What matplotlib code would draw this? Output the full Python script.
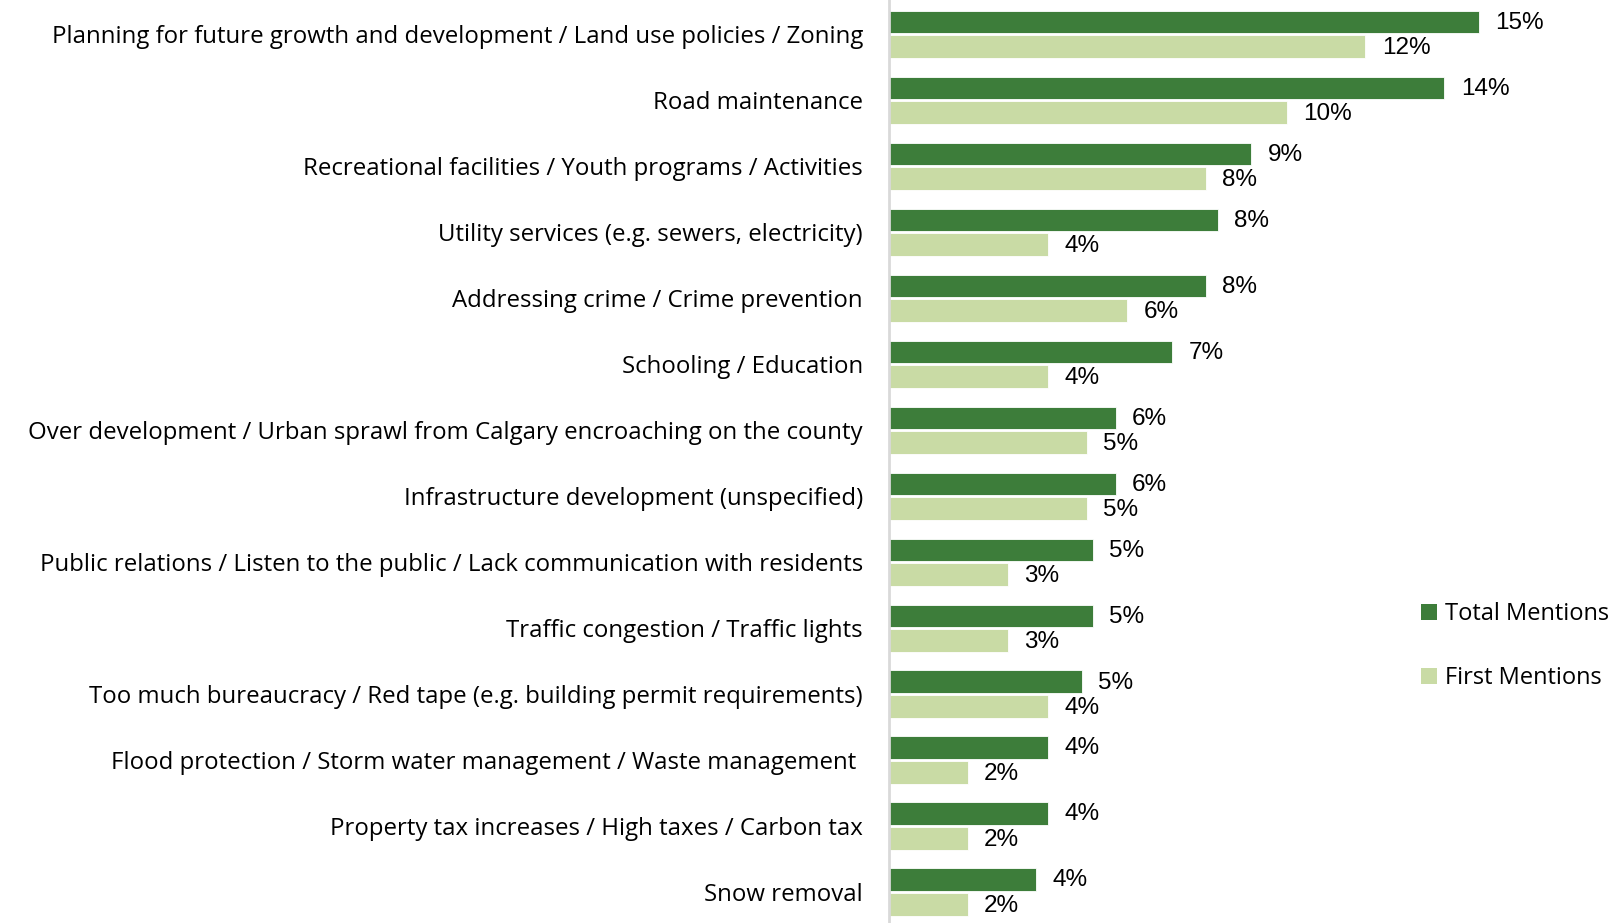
import matplotlib
matplotlib.use("Agg")
import matplotlib.pyplot as plt
import numpy as np
from matplotlib.patches import Patch

categories = [
    "Planning for future growth and development / Land use policies / Zoning",
    "Road maintenance",
    "Recreational facilities / Youth programs / Activities",
    "Utility services (e.g. sewers, electricity)",
    "Addressing crime / Crime prevention",
    "Schooling / Education",
    "Over development / Urban sprawl from Calgary encroaching on the county",
    "Infrastructure development (unspecified)",
    "Public relations / Listen to the public / Lack communication with residents",
    "Traffic congestion / Traffic lights",
    "Too much bureaucracy / Red tape (e.g. building permit requirements)",
    "Flood protection / Storm water management / Waste management ",
    "Property tax increases / High taxes / Carbon tax",
    "Snow removal",
]
total_mentions = [15.08, 14.2, 9.26, 8.4, 8.1, 7.24, 5.79, 5.79, 5.21, 5.21, 4.92, 4.05, 4.05, 3.76]
first_mentions = [12.18, 10.16, 8.1, 4.05, 6.08, 4.05, 5.05, 5.05, 3.03, 3.03, 4.05, 2.0, 2.0, 2.0]
series_names = ["Total Mentions", "First Mentions"]

DARK = "#3D7D3A"
LIGHT = "#C9DBA5"
label_font = ["Open Sans", "DejaVu Sans"]
value_font = ["Liberation Sans Narrow", "Liberation Sans", "DejaVu Sans"]

fig = plt.figure(figsize=(16.14, 9.23), dpi=100)
ax = fig.add_axes([0.551, 0.0, 0.436, 1.0])

y = np.arange(len(categories))
h = 0.345
off = 0.185
ax.barh(y - off, total_mentions, height=h, color=DARK, edgecolor="white", linewidth=0.6)
ax.barh(y + off, first_mentions, height=h, color=LIGHT, edgecolor="white", linewidth=0.6)

for yi, v in zip(y, total_mentions):
    ax.text(v + 0.42, yi - off + 0.01, f"{int(np.round(v))}%", va="center", ha="left",
            fontsize=17.5, family=value_font, color="black")
for yi, v in zip(y, first_mentions):
    ax.text(v + 0.42, yi + off + 0.03, f"{int(np.round(v))}%", va="center", ha="left",
            fontsize=17.5, family=value_font, color="black")

ax.set_xlim(0, 18)
ax.set_ylim(13.47, -0.52)
ax.set_yticks(y)
ax.set_yticklabels(categories, fontsize=17.3, family=label_font)
ax.tick_params(axis="y", length=0, pad=19)
ax.set_xticks([])
for s in ["top", "right", "bottom"]:
    ax.spines[s].set_visible(False)
ax.spines["left"].set_color("#D9D9D9")
ax.spines["left"].set_linewidth(2)

handles = [Patch(facecolor=DARK, edgecolor="none"), Patch(facecolor=LIGHT, edgecolor="none")]
fig.legend(handles, series_names, loc="center left", bbox_to_anchor=(0.867, 0.3),
           frameon=False, prop={"family": label_font, "size": 17.0},
           handlelength=0.7, handleheight=0.7, handletextpad=0.35, labelspacing=1.7)

fig.savefig("out.png", dpi=100)
